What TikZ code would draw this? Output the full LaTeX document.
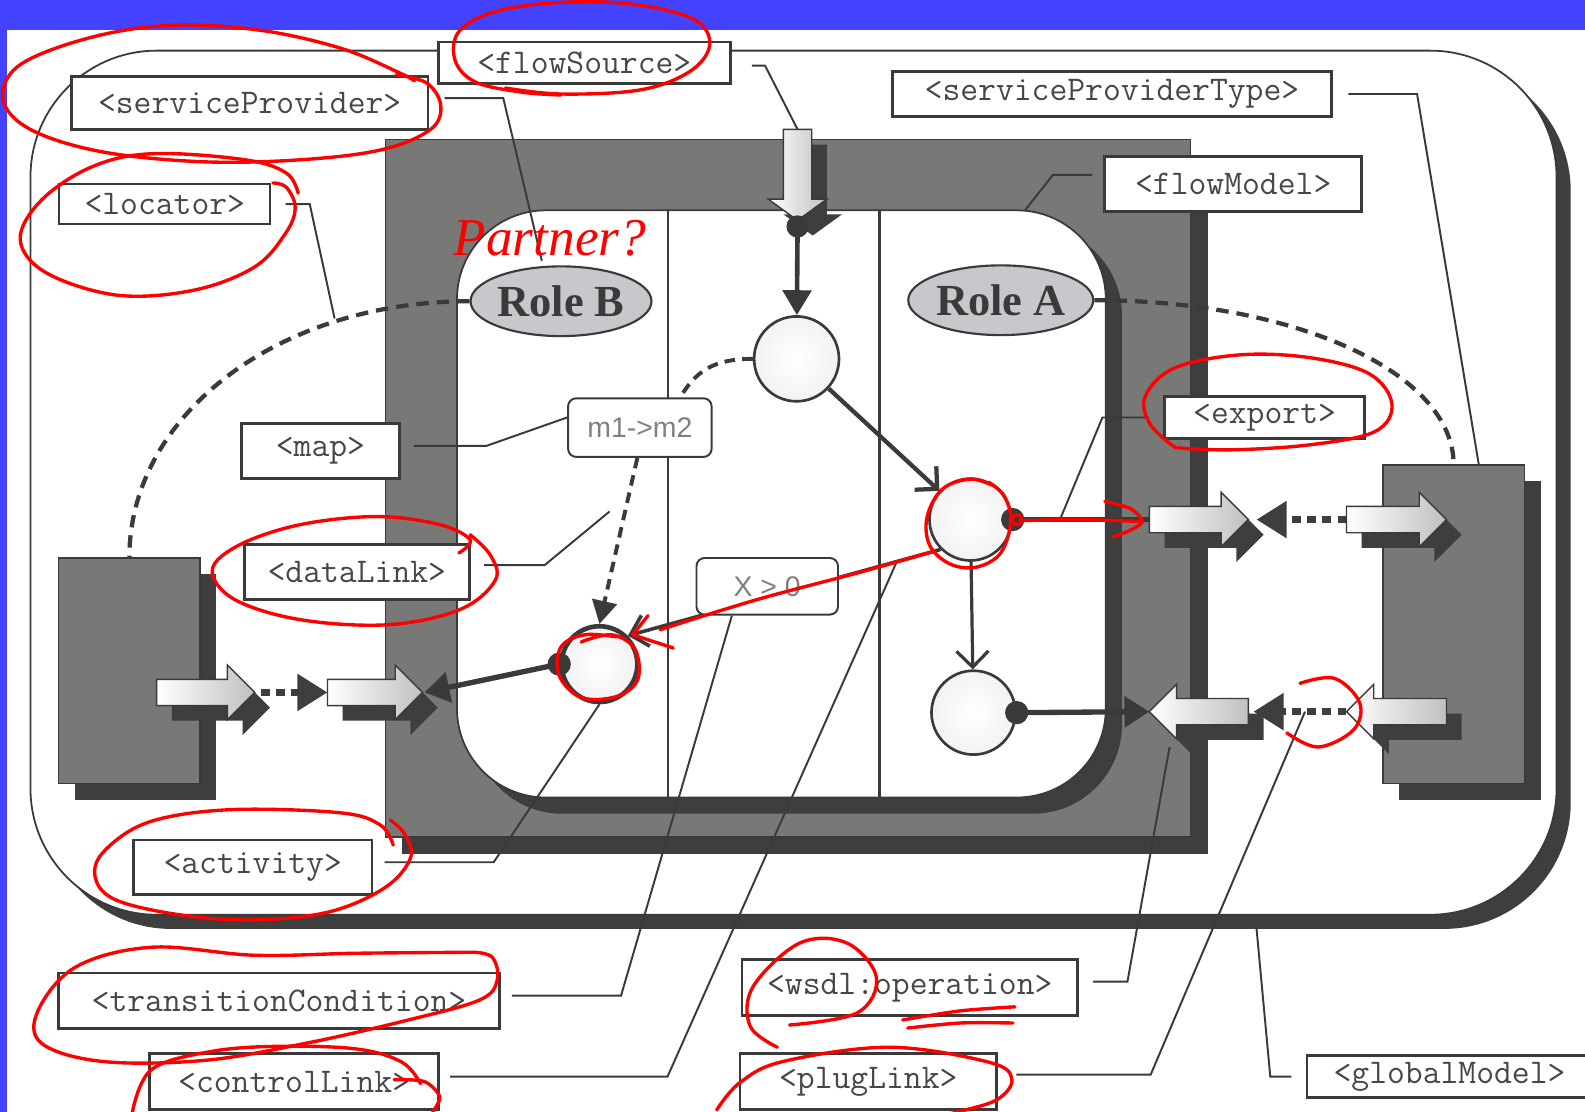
\documentclass[tikz,border=0pt]{standalone}
\usepackage{fontspec}
\usepackage{tikz}
\usetikzlibrary{arrows.meta, shapes.geometric, positioning, shadows}
\newfontfamily\rolefont{Liberation Serif}
\newfontfamily\exprfont{Liberation Sans}
\newcommand{\tagfont}{\fontsize{19.5}{20}\ttfamily}
\definecolor{bandblue}{RGB}{66, 66, 255}
\definecolor{framegray}{RGB}{120, 121, 118}
\definecolor{shadowdark}{RGB}{62, 62, 62}
\definecolor{inkdark}{RGB}{58, 58, 58}
\definecolor{rolefill}{RGB}{200, 199, 204}
\definecolor{arrowgray}{RGB}{192, 192, 192}
\definecolor{markred}{RGB}{255, 0, 0}

% fat block arrow: tail x, tip x, y, direction (1 right, -1 left)
\newcommand{\blockarrow}[4]{%
  \foreach \sh/\sty in {15/arrowshadow, 0/arrowbody}
    \path[\sty, shift={(\sh,\sh)}] ({#1},{#3-13}) -- ({#2-(#4)*27},{#3-13})
      -- ({#2-(#4)*27},{#3-27}) -- ({#2},{#3}) -- ({#2-(#4)*27},{#3+27})
      -- ({#2-(#4)*27},{#3+13}) -- ({#1},{#3+13}) -- cycle;
}

\begin{document}
\begin{tikzpicture}[x=0.02cm, y=-0.02cm,
  tag/.style={draw=inkdark, line width=1.6pt, fill=white, text=black!72,
    font=\tagfont, inner sep=0pt},
  expr/.style={draw=inkdark, line width=1.1pt, fill=white, rounded corners=0.16cm,
    text=black!50, font=\fontsize{16}{16}\exprfont, inner sep=0pt},
  role/.style={ellipse, draw=inkdark, line width=1.2pt, fill=rolefill, text=inkdark,
    font=\fontsize{25}{25}\rolefont\bfseries, inner sep=0pt},
  act/.style={circle, draw=inkdark, line width=1.5pt, inner color=white,
    outer color=black!5, inner sep=0pt},
  panel/.style={draw=inkdark, line width=1pt, fill=white, inner sep=0pt},
  slab/.style={draw=inkdark, line width=0.8pt, fill=framegray, inner sep=0pt},
  castshadow/.style={general shadow={fill=shadowdark, shadow xshift=#1, shadow yshift=-#1}},
  arrowshadow/.style={fill=shadowdark},
  arrowbody/.style={draw=inkdark, line width=0.8pt, left color=white, right color=arrowgray},
  divider/.style={inkdark, line width=1.2pt},
  leader/.style={inkdark, line width=1.1pt},
  partnerlink/.style={inkdark, line width=2.4pt, dash pattern=on 7pt off 4.5pt},
  dataflow/.style={inkdark, line width=2.2pt, dash pattern=on 6pt off 4pt},
  flow/.style={inkdark, line width=2.6pt, -{Triangle[length=14pt, width=16pt]}},
  outlink/.style={inkdark, line width=3pt, -{Triangle[length=14pt, width=17pt]}},
  barb/.style={inkdark, line width=2.4pt, -{Straight Barb[length=9pt, width=18pt]}},
  plug/.style={shadowdark, line width=4pt, dash pattern=on 5pt off 3.5pt,
    -{Triangle[length=17pt, width=20pt]}},
  redmark/.style={markred, line width=1.9pt, line cap=round, line join=round}]

\useasboundingbox (0,0) rectangle (1568,1100);

% blue slide margins
\fill[bandblue] (0,0) rectangle (1568,30);
\fill[bandblue] (0,0) rectangle (7,1100);

% global model and partners
\node[panel, rounded corners=2.5cm, minimum width=30.2cm, minimum height=17.1cm,
  castshadow=.28cm] (global) at (785,477.5) {};
\node[slab, minimum width=2.8cm, minimum height=4.46cm, castshadow=.32cm] (lbox) at (128,663.5) {};
\node[slab, minimum width=2.8cm, minimum height=6.3cm, castshadow=.32cm] (rbox) at (1438,617.5) {};

% flow model
\node[slab, minimum width=15.94cm, minimum height=13.8cm, castshadow=.34cm] (frame) at (779.5,483) {};
\node[panel, rounded corners=1.76cm, minimum width=12.84cm, minimum height=11.62cm,
  castshadow=.32cm] (lanes) at (773,498.5) {};
\draw[divider] (661,208) -- (661,789);
\draw[divider] (870,208) -- (870,789);

% roles
\node[role, minimum width=3.58cm, minimum height=1.38cm] (roleB) at (555,298) {Role B};
\node[role, minimum width=3.66cm, minimum height=1.38cm] (roleA) at (990,297) {Role A};
\draw[partnerlink] (roleB.west) .. controls +(-190,0) and +(0,-140) .. (lbox.north);
\draw[partnerlink] (roleA.east) .. controls +(200,0) and +(0,-90) .. (rbox.north);

% block arrows (plug points)
\coordinate (in1tip) at (258,685);
\coordinate (in2tail) at (324,685);
\coordinate (in2tip) at (420,685);
\coordinate (exptail) at (1137,514);
\coordinate (exptip) at (1243,514);
\coordinate (rexptail) at (1332,514);
\coordinate (imptip) at (1137,704);
\coordinate (imptail) at (1240,704);
\coordinate (rimptip) at (1332,704);
\blockarrow{155}{252}{685}{1}
\blockarrow{324}{418}{685}{1}
\blockarrow{1137}{1235}{514}{1}
\blockarrow{1332}{1431}{514}{1}
\blockarrow{1235}{1137}{704}{-1}
\blockarrow{1431}{1332}{704}{-1}
\draw[plug] (in1tip) -- (in2tail);
\draw[plug] (rexptail) -- (exptip);
\draw[plug] (rimptip) -- (imptail);

% flow source
\coordinate (flowin) at (789,128);
\coordinate (flowdot) at (789,224);
\foreach \sh/\sty in {15/arrowshadow, 0/arrowbody}
  \path[\sty, shift={(\sh,\sh)}] (775,128) -- (803,128) -- (803,197) -- (818,197)
    -- (789,218) -- (760,197) -- (775,197) -- cycle;
\fill[inkdark] (flowdot) circle[radius=0.22cm];

% activities
\node[act, minimum size=1.68cm] (c1) at (788,355) {};
\node[act, minimum size=1.62cm] (c2) at (960,514) {};
\node[act, minimum size=1.66cm] (c3) at (963,705) {};
\node[act, line width=2.6pt, minimum size=1.5cm] (c4) at (593,657) {};

\draw[flow] (flowdot) -- (c1);
\draw[barb] (c1) -- (c2);
\draw[barb, line width=1.8pt] (c2) -- (c3);
\draw[barb, line width=2pt] (c2.south west) -- (c4.north east);
\draw[inkdark, line width=3pt] (c2.east) -- (exptail);
\draw[outlink] (c3.east) -- (imptip);
\draw[outlink] (c4.west) -- (in2tip);
\fill[inkdark] (c2.east) circle[radius=0.23cm];
\fill[inkdark] (c3.east) circle[radius=0.23cm];
\fill[inkdark] (c4.west) circle[radius=0.23cm];

% data link with map
\node[expr, minimum width=2.84cm, minimum height=1.16cm] (mbox) at (633,423) {m1->m2};
\node[expr, minimum width=2.8cm, minimum height=1.12cm] (xbox) at (759,580) {X > 0};
\draw[dataflow] (c1.west) .. controls +(-40,0) and +(15,-25) .. ([xshift=-.64cm]mbox.north east);
\draw[dataflow, -{Triangle[length=13pt, width=14pt]}] ([xshift=-.05cm]mbox.south) -- (c4.north);

% leader ends
\coordinate (spend) at (536,258);
\coordinate (locend) at (331,315);
\coordinate (fmend) at (1014,208);
\coordinate (sptend) at (1463,460);
\coordinate (expend) at (1049,513);
\coordinate (dlend) at (603,506);
\coordinate (clend) at (887,556);
\coordinate (wsend) at (1157,739);
\coordinate (plend) at (1291,704);
\coordinate (gmend) at (1243,918);

% labels
\node[tag, minimum width=7.06cm, minimum height=1.06cm] (spbox) at (247,102) {<serviceProvider>};
\node[tag, minimum width=5.78cm, minimum height=0.82cm] (fsbox) at (578,62) {<flowSource>};
\node[tag, line width=1.1pt, minimum width=4.18cm, minimum height=0.8cm] (locbox) at (163,202) {<locator>};
\node[tag, minimum width=8.7cm, minimum height=0.88cm] (sptbox) at (1100,93) {<serviceProviderType>};
\node[tag, minimum width=5.08cm, minimum height=1.08cm] (fmbox) at (1220,182) {<flowModel>};
\node[tag, minimum width=3.12cm, minimum height=1.08cm] (mapbox) at (317,446) {<map>};
\node[tag, minimum width=4.46cm, minimum height=1.08cm] (dlbox) at (353,566) {<dataLink>};
\node[tag, minimum width=3.96cm, minimum height=0.82cm] (expbox) at (1251,413) {<export>};
\node[tag, minimum width=4.72cm, minimum height=1.08cm] (actbox) at (250,858) {<activity>};
\node[tag, minimum width=8.72cm, minimum height=1.1cm] (tcbox) at (276,990) {<transitionCondition>};
\node[tag, minimum width=5.72cm, minimum height=1.1cm] (clbox) at (291,1070) {<controlLink>};
\node[tag, minimum width=6.64cm, minimum height=1.1cm] (wsbox) at (900,977) {<wsdl:operation>};
\node[tag, minimum width=5.08cm, minimum height=1.1cm] (plbox) at (859,1070) {<plugLink>};
\node[tag, minimum width=5.64cm, minimum height=0.82cm] (gmbox) at (1434,1065) {<globalModel>};

% leaders
\draw[leader] ([xshift=.3cm, yshift=.1cm]spbox.east) -- ++(58,0) -- (spend);
\draw[leader] ([xshift=.4cm, yshift=-.06cm]fsbox.east) -- ++(13,0) -- (flowin);
\draw[leader] ([xshift=.28cm]locbox.east) -- ++(24,0) -- (locend);
\draw[leader] ([xshift=.3cm]sptbox.east) -- ++(68,0) -- (sptend);
\draw[leader] ([xshift=-.22cm, yshift=.18cm]fmbox.west) -- ++(-39,0) -- (fmend);
\draw[leader] ([xshift=.26cm, yshift=.1cm]mapbox.east) -- ++(72,0) -- ([yshift=.2cm]mbox.west);
\draw[leader] ([xshift=-.28cm]expbox.west) -- ++(-46,0) -- (expend);
\draw[leader] ([xshift=.26cm, yshift=.14cm]dlbox.east) -- ++(60,0) -- (dlend);
\draw[leader] ([xshift=.22cm, yshift=.1cm]actbox.east) -- ++(108,0) -- (c4.south);
\draw[leader] ([xshift=.22cm, yshift=.1cm]tcbox.east) -- ++(108,0) -- ([xshift=-.7cm]xbox.south);
\draw[leader] ([xshift=.2cm, yshift=.1cm]clbox.east) -- ++(215,0) -- (clend);
\draw[leader] ([xshift=.28cm, yshift=.12cm]wsbox.east) -- ++(34,0) -- (wsend);
\draw[leader] ([xshift=.36cm, yshift=.14cm]plbox.east) -- ++(133,0) -- (plend);
\draw[leader] ([xshift=-.28cm]gmbox.west) -- ++(-21,0) -- (gmend);

% red review marks
\draw[redmark] plot[smooth, tension=0.6] coordinates {(392,74) (422,82) (436,104) (426,128)
  (378,148) (298,158) (200,160) (100,150) (30,128) (3,98) (20,64) (90,37) (170,25) (258,30)
  (338,48) (395,72) (410,80)};
\draw[redmark] plot[smooth, tension=0.6] coordinates {(500,87) (555,93) (633,89) (682,71)
  (702,45) (688,20) (633,5) (564,2) (495,10) (455,30) (450,59) (470,81) (515,91) (555,94)};
\draw[redmark] plot[smooth, tension=0.6] coordinates {(295,191) (283,171) (242,158) (151,152)
  (91,165) (41,198) (20,237) (46,270) (116,292) (192,287) (252,264) (283,230) (292,205)
  (283,185) (270,181)};
\node[text=markred, font=\fontsize{30}{30}\rolefont\itshape] (partner) at (544,236) {Partner?};
\draw[redmark] plot[smooth, tension=0.6] coordinates {(1163,443) (1138,420) (1133,392)
  (1162,364) (1227,351) (1297,354) (1355,370) (1377,400) (1360,427) (1296,440) (1218,445)
  (1165,443)};
\draw[redmark] plot[smooth, tension=0.6] coordinates {(984,481) (960,474) (932,484) (917,512)
  (920,540) (940,558) (966,561) (990,547) (1000,515) (993,490) (978,477)};
\draw[redmark] (1006,514) circle[radius=0.1cm];
\draw[redmark] plot[smooth] coordinates {(1010,515) (1070,514) (1130,516)};
\draw[redmark] plot[smooth] coordinates {(1093,496) (1118,503) (1130,516) (1115,526) (1101,531)};
\draw[redmark] plot[smooth] coordinates {(922,546) (851,566) (760,590) (700,608) (653,623)};
\draw[redmark] (641,609) -- (626,628) -- (666,641);
\draw[redmark] plot[smooth, tension=0.6] coordinates {(575,635) (605,628) (628,642) (631,672)
  (610,689) (575,690) (553,668) (555,640) (578,628) (610,630)};
\draw[redmark] plot[smooth, tension=0.6] coordinates {(454,547) (465,534) (435,519) (373,511)
  (297,519) (237,539) (210,564) (232,593) (297,613) (384,618) (455,603) (490,574) (485,549)
  (465,529)};
\draw[redmark] plot[smooth, tension=0.6] coordinates {(1286,676) (1320,671) (1345,695)
  (1339,722) (1304,739) (1273,725)};
\draw[redmark] plot[smooth, tension=0.6] coordinates {(389,836) (376,816) (336,804) (227,801)
  (148,813) (104,841) (94,867) (114,890) (178,905) (252,910) (326,902) (381,878) (406,849)
  (401,826) (386,811)};
\draw[redmark] plot[smooth, tension=0.6] coordinates {(469,942) (487,947) (492,969) (475,989)
  (404,1009) (303,1032) (202,1049) (101,1050) (41,1032) (38,999) (76,956) (151,937) (252,945)
  (353,943) (469,942)};
\draw[redmark] plot[smooth, tension=0.6] coordinates {(131,1100) (150,1058) (210,1040)
  (280,1035) (355,1038) (398,1051) (416,1072)};
\draw[redmark] plot[smooth] coordinates {(390,1068) (420,1070) (435,1085) (428,1100)};
\draw[redmark] plot[smooth, tension=0.6] coordinates {(781,1014) (848,1002) (867,967) (838,933)
  (791,933) (745,976) (742,1015) (769,1036)};
\draw[redmark] plot[smooth] coordinates {(893,1009) (950,1000) (1004,996)};
\draw[redmark] plot[smooth] coordinates {(898,1017) (950,1012) (1002,1012)};
\draw[redmark] plot[smooth, tension=0.6] coordinates {(709,1098) (732,1071) (775,1050)
  (880,1036) (979,1051) (1001,1068) (986,1088) (947,1100) (920,1106)};

\end{tikzpicture}
\end{document}
